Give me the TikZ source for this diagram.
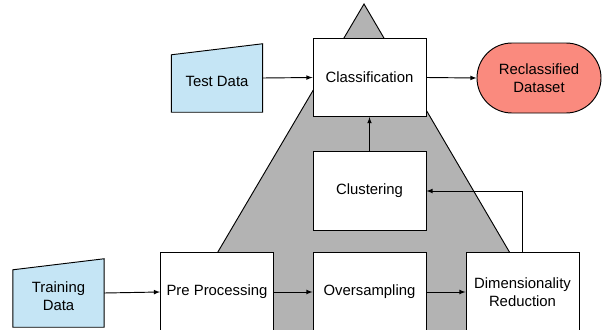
\documentclass[tikz,border=0pt]{standalone}
\usepackage{fontspec}
\setmainfont{Liberation Sans}
\usepackage{tikz}
\usepackage{xcolor}

\definecolor{datablue}{RGB}{197,229,245}
\definecolor{resultred}{RGB}{250,138,126}
\definecolor{pyramidgray}{RGB}{179,179,179}

\tikzset{
  stepbox/.style={draw, fill=white, line width=0.8pt, align=center,
    minimum width=3.39cm, minimum height=2.35cm, inner sep=0pt},
  inputbox/.style={minimum width=2.72cm, minimum height=2.04cm, align=center, inner sep=0pt},
  flow/.style={-latex, line width=0.8pt}
}

\begin{document}
\begin{tikzpicture}[x=0.03cm, y=-0.03cm, font=\fontsize{12.7}{15}\selectfont]

\useasboundingbox (0,0) rectangle (610,329);
\clip (0,0) rectangle (610,329);

% pyramid behind the steps
\draw[fill=pyramidgray, line width=0.8pt] (364,4) -- (561,340) -- (166,340) -- cycle;

% nodes
{
\node[stepbox] (classif) at (369.5,77.5) {Classification};
\node[stepbox] (cluster) at (369.5,191) {Clustering};
\node[stepbox] (preproc) at (217,292) {Pre Processing};
\node[stepbox] (oversamp) at (369.5,292) {Oversampling};
\node[stepbox] (dimred) at (522.5,292) {Dimensionality\\Reduction};

\node[draw, fill=resultred, line width=0.8pt, minimum width=3.72cm, minimum height=2.1cm,
  rounded corners=1.05cm, align=center, inner sep=0pt] (reclass) at (539,78) {Reclassified\\Dataset};

\node[inputbox] (testdata) at (217,78) {};
\node[inputbox] (traindata) at (58.5,293) {};
}

% manual input shapes
\draw[fill=datablue, line width=0.8pt] (testdata.south west) -- (testdata.south east)
  -- (testdata.north east) -- ([yshift=-0.33cm]testdata.north west) -- cycle;
\node at ([yshift=-0.1cm]testdata.center) {Test Data};
\draw[fill=datablue, line width=0.8pt] (traindata.south west) -- (traindata.south east)
  -- (traindata.north east) -- ([yshift=-0.33cm]traindata.north west) -- cycle;
\node[align=center] at ([yshift=-0.1cm]traindata.center) {Training\\Data};

% connectors
\draw[flow] (testdata.east) -- (classif.west);
\draw[flow] (classif.east) -- (reclass.west);
\draw[flow] (cluster.north) -- (classif.south);
\draw[flow] (traindata.east) -- (preproc.west);
\draw[flow] (preproc.east) -- (oversamp.west);
\draw[flow] (oversamp.east) -- (dimred.west);
\draw[flow] (dimred.north) |- (cluster.east);

\end{tikzpicture}
\end{document}
